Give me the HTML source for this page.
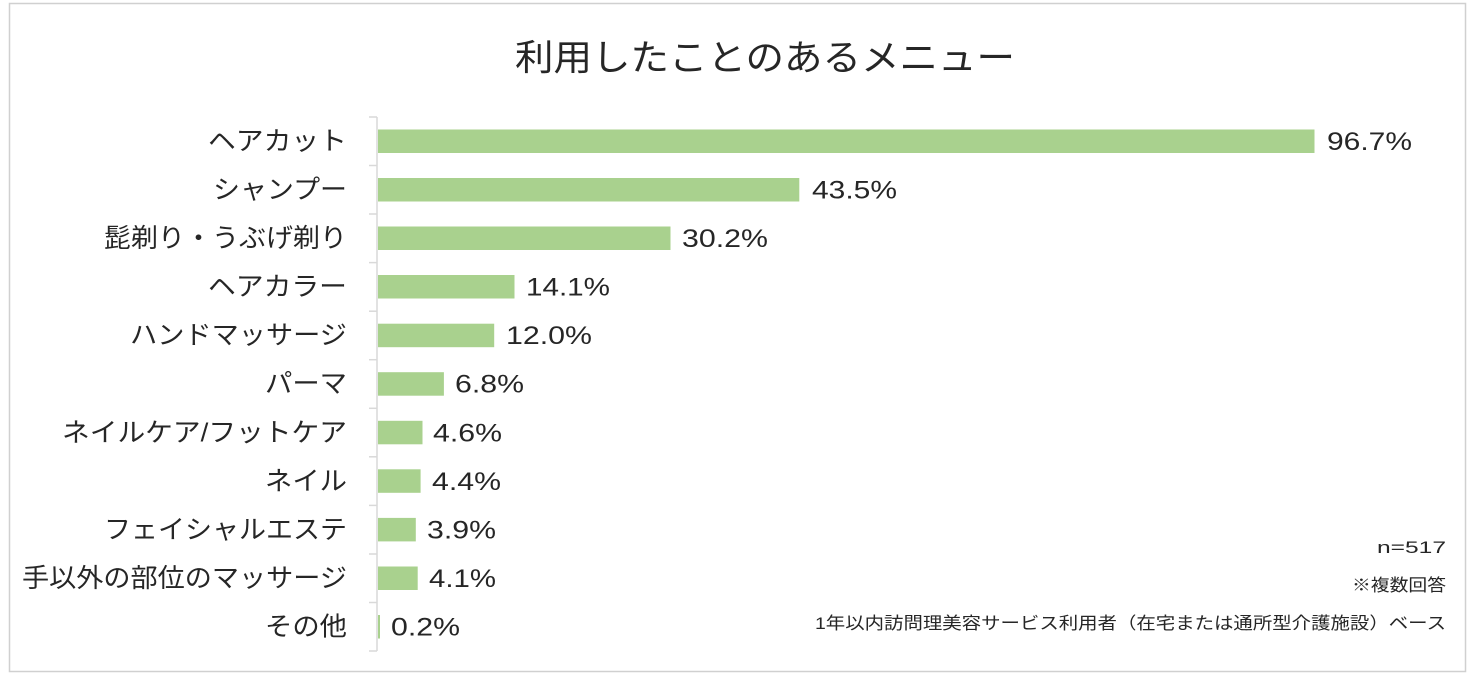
<!DOCTYPE html>
<html><head><meta charset="utf-8"><style>
body{margin:0;background:#fff;}
svg{display:block;font-family:"Liberation Sans","Noto Sans CJK JP",sans-serif;}
</style></head><body>
<svg width="1476" height="680" xmlns="http://www.w3.org/2000/svg">
<rect x="9.5" y="3.5" width="1456" height="668" fill="#fff" stroke="#d0d0d0" stroke-width="1.5"/>
<text x="515" y="70" font-size="36" textLength="500" lengthAdjust="spacingAndGlyphs" fill="#262626">利用したことのあるメニュー</text>
<g stroke="#d9d9d9" stroke-width="1.5">
<line x1="377" y1="117" x2="377" y2="651"/>
<line x1="369" y1="117" x2="377" y2="117"/>
<line x1="369" y1="165.5" x2="377" y2="165.5"/>
<line x1="369" y1="214" x2="377" y2="214"/>
<line x1="369" y1="262.6" x2="377" y2="262.6"/>
<line x1="369" y1="311.2" x2="377" y2="311.2"/>
<line x1="369" y1="359.7" x2="377" y2="359.7"/>
<line x1="369" y1="408.3" x2="377" y2="408.3"/>
<line x1="369" y1="456.8" x2="377" y2="456.8"/>
<line x1="369" y1="505.4" x2="377" y2="505.4"/>
<line x1="369" y1="554" x2="377" y2="554"/>
<line x1="369" y1="602.5" x2="377" y2="602.5"/>
<line x1="369" y1="651" x2="377" y2="651"/>
</g>
<g fill="#a9d18e">
<rect x="378" y="129.5" width="936.5" height="23.5"/>
<rect x="378" y="178" width="421.3" height="23.5"/>
<rect x="378" y="226.5" width="292.5" height="23.5"/>
<rect x="378" y="275" width="136.5" height="23.5"/>
<rect x="378" y="323.7" width="116.2" height="23.5"/>
<rect x="378" y="372.2" width="65.9" height="23.5"/>
<rect x="378" y="420.8" width="44.5" height="23.5"/>
<rect x="378" y="469.3" width="42.6" height="23.5"/>
<rect x="378" y="517.9" width="37.8" height="23.5"/>
<rect x="378" y="566.5" width="39.7" height="23.5"/>
<rect x="378" y="615" width="2" height="23.5"/>
</g>
<g font-size="26" fill="#262626">
<text x="208" y="150" textLength="139" lengthAdjust="spacingAndGlyphs">ヘアカット</text>
<text x="213" y="198.5" textLength="134" lengthAdjust="spacingAndGlyphs">シャンプー</text>
<text x="104" y="247" textLength="243" lengthAdjust="spacingAndGlyphs">髭剃り・うぶげ剃り</text>
<text x="208" y="295.6" textLength="139" lengthAdjust="spacingAndGlyphs">ヘアカラー</text>
<text x="130" y="344.2" textLength="217" lengthAdjust="spacingAndGlyphs">ハンドマッサージ</text>
<text x="265" y="392.7" textLength="82" lengthAdjust="spacingAndGlyphs">パーマ</text>
<text x="62" y="441.3" textLength="285" lengthAdjust="spacingAndGlyphs">ネイルケア/フットケア</text>
<text x="265" y="489.8" textLength="82" lengthAdjust="spacingAndGlyphs">ネイル</text>
<text x="104" y="538.4" textLength="243" lengthAdjust="spacingAndGlyphs">フェイシャルエステ</text>
<text x="22" y="587" textLength="325" lengthAdjust="spacingAndGlyphs">手以外の部位のマッサージ</text>
<text x="265" y="635.5" textLength="82" lengthAdjust="spacingAndGlyphs">その他</text>
</g>
<g font-size="25" fill="#262626">
<text x="1327" y="150" textLength="85" lengthAdjust="spacingAndGlyphs">96.7%</text>
<text x="812" y="198.5" textLength="85" lengthAdjust="spacingAndGlyphs">43.5%</text>
<text x="682" y="247" textLength="86" lengthAdjust="spacingAndGlyphs">30.2%</text>
<text x="526" y="295.6" textLength="84" lengthAdjust="spacingAndGlyphs">14.1%</text>
<text x="506" y="344.2" textLength="86" lengthAdjust="spacingAndGlyphs">12.0%</text>
<text x="455" y="392.7" textLength="69" lengthAdjust="spacingAndGlyphs">6.8%</text>
<text x="433" y="441.3" textLength="69" lengthAdjust="spacingAndGlyphs">4.6%</text>
<text x="432" y="489.8" textLength="69" lengthAdjust="spacingAndGlyphs">4.4%</text>
<text x="427" y="538.4" textLength="69" lengthAdjust="spacingAndGlyphs">3.9%</text>
<text x="429" y="587" textLength="67" lengthAdjust="spacingAndGlyphs">4.1%</text>
<text x="391" y="635.5" textLength="69" lengthAdjust="spacingAndGlyphs">0.2%</text>
</g>
<g font-size="17" fill="#262626">
<text x="1377" y="553" textLength="69" lengthAdjust="spacingAndGlyphs">n=517</text>
<text x="1352" y="591" textLength="94" lengthAdjust="spacingAndGlyphs">※複数回答</text>
<text x="815" y="629" textLength="631" lengthAdjust="spacingAndGlyphs">1年以内訪問理美容サービス利用者（在宅または通所型介護施設）ベース</text>
</g>
</svg>
</body></html>
